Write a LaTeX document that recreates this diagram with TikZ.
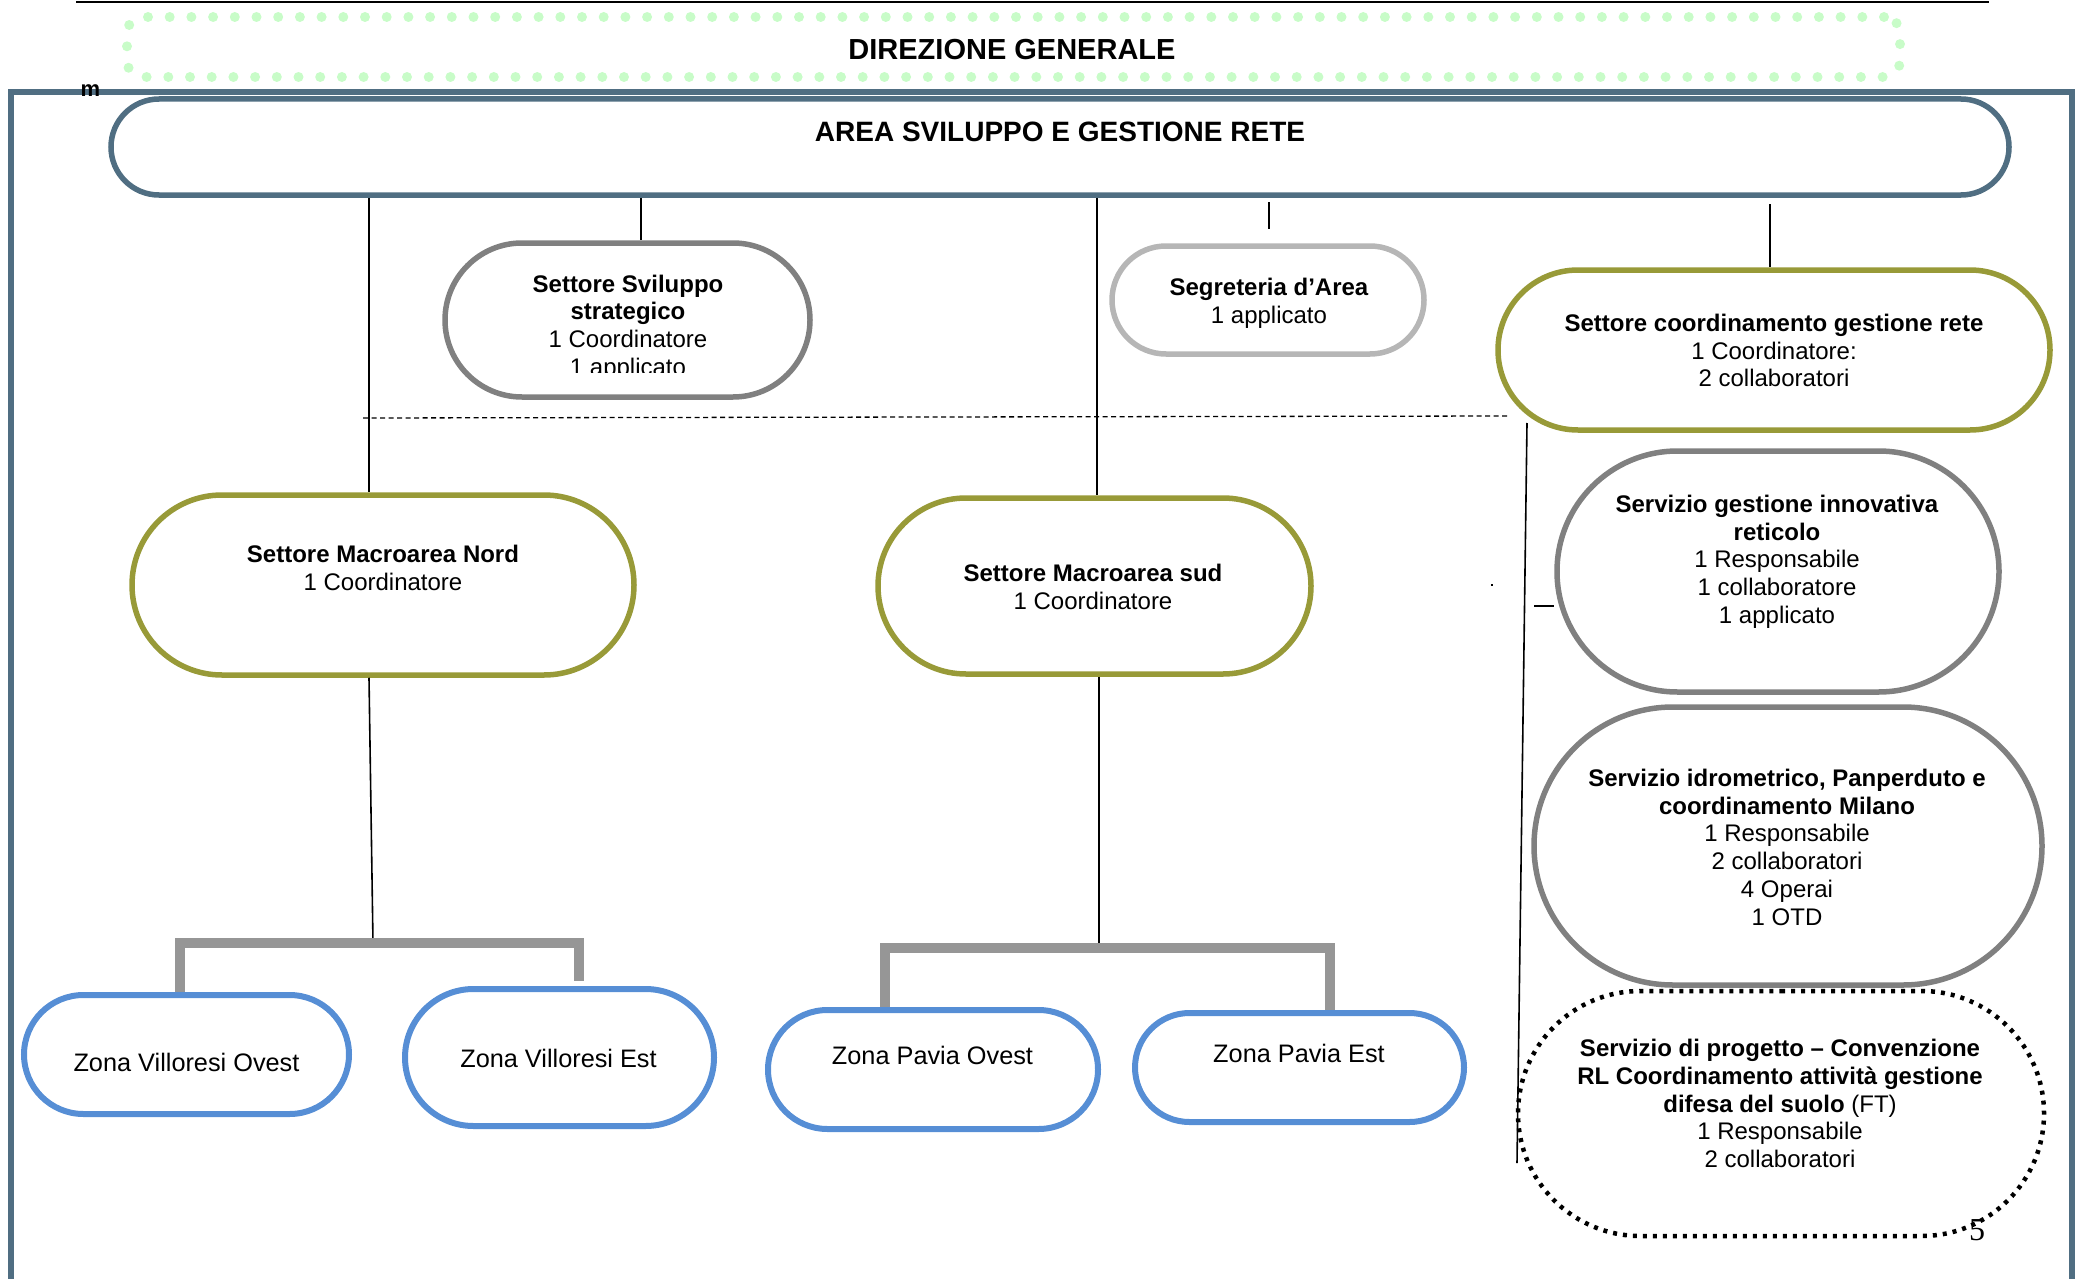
\documentclass[tikz,border=0pt]{standalone}
\usepackage{fontspec}
\setmainfont{Liberation Sans}
\newfontfamily\pagefont{Liberation Serif}
\usetikzlibrary{shapes.misc}
\definecolor{slate}{RGB}{80,110,130}
\definecolor{olivebox}{RGB}{152,154,56}
\definecolor{graybox}{RGB}{128,128,128}
\definecolor{lightbox}{RGB}{182,182,182}
\definecolor{bluebox}{RGB}{86,142,213}
\definecolor{brgray}{RGB}{150,150,150}
\definecolor{dotgreen}{RGB}{200,252,200}
\tikzset{
  capsule/.style={rounded rectangle, inner sep=0pt, line width=5.5pt},
  olivecap/.style={capsule, draw=olivebox},
  graycap/.style={capsule, draw=graybox},
  lightcap/.style={capsule, draw=lightbox},
  bluecap/.style={capsule, draw=bluebox, line width=6pt},
  dotcap/.style={capsule, draw=black, line width=4.5pt, dash pattern=on 4pt off 6pt},
  conn/.style={draw=black, line width=1.6pt},
  bracket/.style={draw=brgray, line width=10pt, line join=miter},
  txt/.style={font=\fontsize{24}{27.7}\selectfont, align=center, inner sep=0pt, anchor=north},
  zonetxt/.style={font=\fontsize{25.3}{30}\selectfont, inner sep=0pt, anchor=base},
}
\begin{document}
\begin{tikzpicture}[x=1pt,y=-1pt]
\useasboundingbox (0,0) rectangle (2083,1279);

% top rule
\coordinate (r1) at (76,2.5);
\coordinate (r2) at (1989,2.5);
\draw[line width=2pt] (r1) -- (r2);

% Direzione generale
\node[draw=dotgreen, line width=10pt, line cap=round, dash pattern=on 0pt off 21.7pt,
      rounded corners=16pt, minimum width=1773pt, minimum height=60pt, inner sep=0pt]
      (dg) at (1013.5,47) {};
\node[font=\fontsize{29}{34}\selectfont\bfseries, anchor=base, inner sep=0pt] (t-dg) at (1012,59.5) {DIREZIONE GENERALE};

% outer frame
\draw[slate, line width=5.5pt] (11,1279) -- (11,92) -- (2072,92) -- (2072,1279);
\node[font=\fontsize{22}{26}\selectfont\bfseries, anchor=base, inner sep=0pt] (m) at (90.5,97) {m};

% boxes
\node[capsule, draw=slate, minimum width=1898pt, minimum height=96pt] (area) at (1060,147) {};
\node[font=\fontsize{28}{32}\selectfont\bfseries, anchor=base, inner sep=0pt] (t-area) at (1060,142) {AREA SVILUPPO E GESTIONE RETE};

\node[graycap, minimum width=365pt, minimum height=154pt] (svil) at (627.5,320) {};
\node[lightcap, minimum width=312pt, minimum height=108pt] (segr) at (1268,300) {};
\node[olivecap, minimum width=552pt, minimum height=160pt] (coord) at (1774,350) {};
\node[olivecap, minimum width=502pt, minimum height=180pt] (nord) at (383,585) {};
\node[olivecap, minimum width=433pt, minimum height=176pt] (sud) at (1094.5,586) {};
\node[graycap, minimum width=442pt, minimum height=241pt] (gest) at (1778,571.5) {};
\node[graycap, minimum width=508pt, minimum height=278pt] (idro) at (1788,846) {};
\node[dotcap, minimum width=526pt, minimum height=245pt] (prog) at (1781,1113.5) {};

\node[bluecap, minimum width=325pt, minimum height=119pt] (zvo) at (186.5,1054.5) {};
\node[bluecap, minimum width=309pt, minimum height=137pt] (zve) at (559.5,1057.5) {};
\node[bluecap, minimum width=330pt, minimum height=119pt] (zpo) at (933,1069.5) {};
\node[bluecap, minimum width=329pt, minimum height=109pt] (zpe) at (1299.5,1067.5) {};

% connectors
\coordinate (xa) at (369,0);
\draw[conn] (area.south -| xa) -- (nord.north -| xa);
\coordinate (xv) at (641,0);
\draw[conn] (area.south -| xv) -- (svil.north -| xv);
\coordinate (xs) at (1097,0);
\draw[conn] (area.south -| xs) -- (sud.north -| xs);
\coordinate (sg1) at (1269,202);
\coordinate (sg2) at (1269,229);
\draw[conn] (sg1) -- (sg2);
\coordinate (kc) at (1770,204);
\draw[conn] (kc) -- (coord.north -| kc);
\coordinate (d1) at (363,418);
\coordinate (d2) at (1508,416);
\draw[conn, line width=1.3pt, dash pattern=on 5pt off 3.5pt] (d1) -- (d2);
\coordinate (v1) at (1527,423);
\coordinate (v2) at (1517,1163);
\draw[conn] (v1) -- (v2);
\coordinate (h1) at (1534,606);
\draw[conn, line width=2pt] (h1) -- (h1 -| gest.west);
\node[fill=black, inner sep=0pt, minimum size=2.4pt] (dot) at (1492,585) {};

\coordinate (bn) at (373,943);
\draw[conn] (nord.south -| xa) -- (bn);
\draw[bracket] ([xshift=-6.5pt]zvo.north) |- (bn) -| ([xshift=19.5pt,yshift=5pt]zve.north);
\coordinate (bs) at (1099,948);
\draw[conn] (sud.south -| bs) -- (bs);
\draw[bracket] ([xshift=-48pt]zpo.north) |- (bs) -| ([xshift=30.5pt]zpe.north);

% texts
\begin{scope}
\clip (430,230) rectangle (830,372);
\node[txt] (t-svil) at (628,274.7) {\textbf{Settore Sviluppo}\\\textbf{strategico}\\1 Coordinatore\\1 applicato};
\end{scope}
\node[txt] (t-segr) at (1269,278) {\textbf{Segreteria d’Area}\\1 applicato};
\node[txt] (t-coord) at (1774,314) {\textbf{Settore coordinamento gestione rete}\\1 Coordinatore:\\2 collaboratori};
\node[txt] (t-nord) at (383,545) {\textbf{Settore Macroarea Nord}\\1 Coordinatore};
\node[txt] (t-sud) at (1093,564) {\textbf{Settore Macroarea sud}\\1 Coordinatore};
\node[txt] (t-gest) at (1777,495) {\textbf{Servizio gestione innovativa}\\\textbf{reticolo}\\1 Responsabile\\1 collaboratore\\1 applicato};
\node[txt] (t-idro) at (1787,769) {\textbf{Servizio idrometrico, Panperduto e}\\\textbf{coordinamento Milano}\\1 Responsabile\\2 collaboratori\\4 Operai\\1 OTD};
\node[txt] (t-prog) at (1780,1039) {\textbf{Servizio di progetto – Convenzione}\\\textbf{RL Coordinamento attività gestione}\\\textbf{difesa del suolo} (FT)\\1 Responsabile\\2 collaboratori};

\node[zonetxt] (t-zvo) at (186.5,1071) {Zona Villoresi Ovest};
\node[zonetxt] (t-zve) at (558.5,1067) {Zona Villoresi Est};
\node[zonetxt] (t-zpo) at (932.5,1064) {Zona Pavia Ovest};
\node[zonetxt] (t-zpe) at (1299,1062) {Zona Pavia Est};

\node[font=\fontsize{32}{36}\selectfont\pagefont, anchor=base, inner sep=0pt] (pg) at (1977,1240) {5};
\end{tikzpicture}
\end{document}
